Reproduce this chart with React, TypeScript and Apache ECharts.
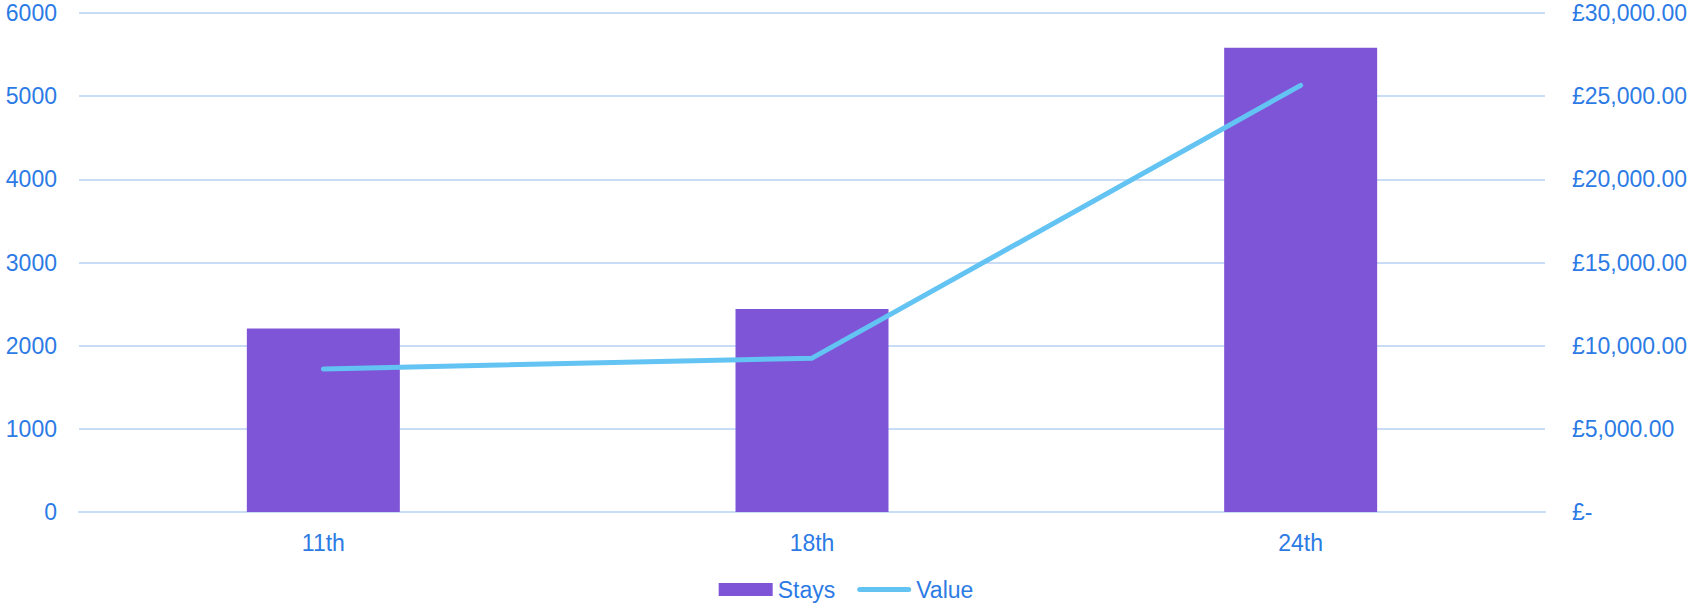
import React, { useEffect, useRef } from "react";
import * as echarts from "echarts";

const categories = ["11th", "18th", "24th"];
const staysValues = [2205, 2440, 5583];
const valueValues = [8600, 9250, 25650];
const leftTicks = { min: 0, max: 6000, interval: 1000 };
const rightTicks = { min: 0, max: 30000, interval: 5000 };

const TEXT = "#2C7BE5";
const GRID = "#C9DCF6";
const FONT = "'Liberation Sans', Arial, sans-serif";
const FS = 23;

export default function App() {
  const ref = useRef<HTMLDivElement>(null);
  useEffect(() => {
    if (!ref.current) return;
    const chart = echarts.init(ref.current, null, { renderer: "svg" });
    chart.setOption({
      animation: false,
      textStyle: { fontFamily: FONT },
      grid: { left: 79, right: 147, top: 13, bottom: 93 },
      legend: {
        top: 578,
        left: "center",
        itemWidth: 54,
        itemHeight: 13,
        itemGap: 22,
        padding: 0,
        textStyle: { color: TEXT, fontSize: FS, fontFamily: FONT },
        data: [
          { name: "Stays", icon: "rect" },
          {
            name: "Value",
            icon: "path://M2.5,0 H51.5 A2.5,2.5 0 0 1 51.5,5 H2.5 A2.5,2.5 0 0 1 2.5,0 Z",
            itemStyle: { color: "#63C3F3", borderWidth: 0 },
            lineStyle: { width: 0 },
          },
        ],
      },
      xAxis: {
        type: "category",
        data: categories,
        axisTick: { show: false },
        axisLine: { lineStyle: { color: GRID, width: 2 } },
        axisLabel: { color: TEXT, fontSize: FS, margin: 19, fontFamily: FONT },
      },
      yAxis: [
        {
          type: "value",
          ...leftTicks,
          axisLine: { show: false },
          axisTick: { show: false },
          splitLine: { lineStyle: { color: GRID, width: 2 } },
          axisLabel: {
            color: TEXT,
            fontSize: FS,
            margin: 22,
            fontFamily: FONT,
            formatter: (v: number) => String(v),
          },
        },
        {
          type: "value",
          ...rightTicks,
          position: "right",
          axisLine: { show: false },
          axisTick: { show: false },
          splitLine: { show: false },
          axisLabel: {
            color: TEXT,
            fontSize: FS,
            margin: 27,
            fontFamily: FONT,
            formatter: (v: number) =>
              v === 0
                ? "£-"
                : "£" +
                  v.toLocaleString("en-GB", {
                    minimumFractionDigits: 2,
                    maximumFractionDigits: 2,
                  }),
          },
        },
      ],
      series: [
        {
          name: "Stays",
          type: "bar",
          data: staysValues,
          barWidth: 153,
          itemStyle: { color: "#7F55D8" },
          yAxisIndex: 0,
        },
        {
          name: "Value",
          type: "line",
          data: valueValues,
          yAxisIndex: 1,
          symbol: "none",
          lineStyle: { color: "#63C3F3", width: 5, cap: "round" },
          itemStyle: { color: "#63C3F3" },
        },
      ],
    });
    return () => chart.dispose();
  }, []);
  return (
    <div
      ref={ref}
      style={{ position: "absolute", left: 0, top: 0, width: 1692, height: 605 }}
    />
  );
}
